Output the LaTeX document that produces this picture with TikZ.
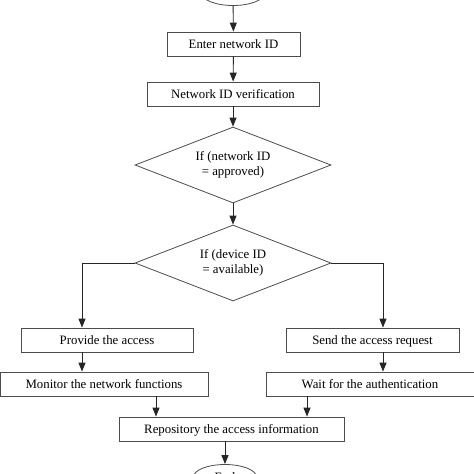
\documentclass[tikz,border=0pt]{standalone}
\usepackage{fontspec}
\setmainfont{Liberation Serif}
\usetikzlibrary{shapes.geometric,arrows.meta}

\begin{document}
\begin{tikzpicture}[x=1pt, y=-1pt, every node/.style={draw=black!70, line width=0.8pt, align=center, font=\fontsize{12.8}{14.5}\selectfont, minimum height=24pt, inner sep=2pt},
        stepbox/.style={rectangle, text height=11pt, text depth=3pt},
        decision/.style={diamond, aspect=2.58, minimum width=196pt, minimum height=76pt, inner sep=0pt},
        terminal/.style={ellipse, minimum width=63pt, minimum height=25pt},
        flow/.style={draw=black!85, line width=0.9pt, -{Triangle[width=7pt,length=9pt]}}]
    \useasboundingbox (0,0) rectangle (474,474);
    \node[terminal] (start) at (233,-7) {};
    \node[stepbox, minimum width=133pt] (enter) at (233.5,44) {Enter network ID};
    \node[stepbox, minimum width=172pt] (verify) at (233,94) {Network ID verification};
    \node[decision] (netok) at (233,165) {If (network ID\\ = approved)};
    \node[decision] (devok) at (233,263) {If (device ID\\ = available)};
    \node[stepbox, minimum width=172pt] (provide) at (107,340) {Provide the access};
    \node[stepbox, minimum width=208pt] (monitor) at (104,384) {Monitor the network functions};
    \node[stepbox, minimum width=173pt] (send) at (372.5,340) {Send the access request};
    \node[stepbox, minimum width=208pt] (wait) at (370,384) {Wait for the authentication};
    \node[stepbox, minimum width=225pt] (repo) at (231.5,429) {Repository the access information};
    \node[terminal] (end) at (225,477) {End};
    \coordinate (lturn) at (82,263);
    \coordinate (rturn) at (383,263);
    \coordinate (linx) at (156,0);
    \coordinate (rinx) at (307,0);
    \draw[flow] (start) -- (enter);
    \draw[flow] (enter) -- (verify);
    \draw[flow] (verify) -- (netok);
    \draw[flow] (netok) -- (devok);
    \draw[flow] (devok.west) -- (lturn) -- (provide.north -| lturn);
    \draw[flow] (devok.east) -- (rturn) -- (send.north -| rturn);
    \draw[flow] (provide.south -| lturn) -- (monitor.north -| lturn);
    \draw[flow] (send.south -| rturn) -- (wait.north -| rturn);
    \draw[flow] (monitor.south -| linx) -- (repo.north -| linx);
    \draw[flow] (wait.south -| rinx) -- (repo.north -| rinx);
    \draw[flow] (repo.south -| end) -- (end);
\end{tikzpicture}
\end{document}
